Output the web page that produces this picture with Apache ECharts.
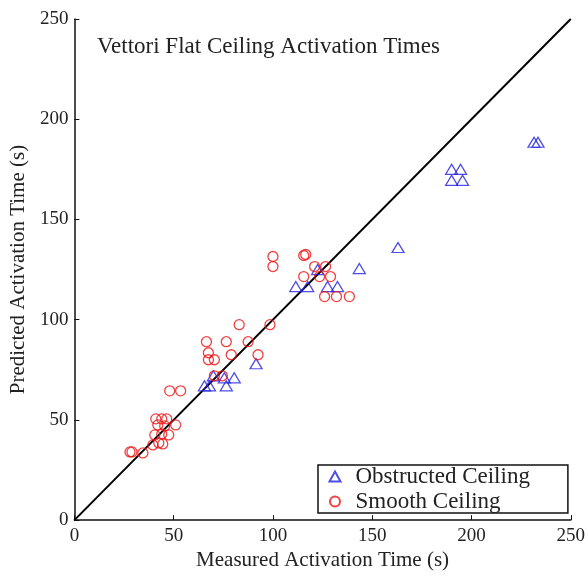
<!DOCTYPE html>
<html>
<head>
<meta charset="utf-8">
<script src="https://cdn.jsdelivr.net/npm/echarts@6/dist/echarts.min.js"></script>
<style>
html,body{margin:0;padding:0;background:#fff;}
#chart{width:588px;height:576px;}
</style>
</head>
<body>
<div id="chart"></div>
<script>
var titleText = 'Vettori Flat Ceiling Activation Times';
var xLabel = 'Measured Activation Time (s)';
var yLabel = 'Predicted Activation Time (s)';
var seriesNames = ['Obstructed Ceiling', 'Smooth Ceiling'];
var axisMin = 0, axisMax = 250, axisStep = 50;
var perfectLine = [[0, 0], [250, 250]];

var obstructed = [
  [65.5,67],[68,67],[76.5,67],[70,72],[75.5,71],[80.5,71],[91.5,78],
  [111.5,116.5],[117.5,116.5],[127.5,116.5],[132.5,116.5],[122.5,125],[143.5,125.5],
  [163,136],[190,169.5],[195.5,169.5],[190,175],[194.5,175],[231.5,188.5],[233.5,188.5]
];

var smooth = [
  [28,34],[29,34],[34.5,33.5],[39.5,37.5],[42.5,38.5],[44.5,38],[40.5,42.5],[44,43],[47.5,42.5],
  [42,47.5],[45.5,47],[51,47.5],[41,50.5],[44,50.5],[46.5,50.5],[48,64.5],[53.5,64.5],
  [66.5,89],[76.5,89],[87.5,89],[67.5,83.5],[79,82.5],[92.5,82.5],[67.5,80],[70.5,80],
  [70.5,72],[74.5,72],[83,97.5],[98.5,97.5],
  [100,131.5],[100,126.5],[115.5,132],[116.5,132.5],[121,126.5],[126.5,126.5],
  [115.5,121.5],[123.5,121.5],[129,121.5],[126,111.5],[132,111.5],[138.5,111.5]
];

var serif = '"Liberation Serif","DejaVu Serif",serif';
var chart = echarts.init(document.getElementById('chart'));

function axisCommon(name, nameGap, rotate) {
  return {
    type: 'value', min: axisMin, max: axisMax, interval: axisStep,
    name: name, nameLocation: 'middle', nameGap: nameGap, nameRotate: rotate,
    nameTextStyle: {fontFamily: serif, fontSize: 21, color: '#222'},
    axisLine: {show: true, onZero: false, lineStyle: {color: '#111', width: 1.5}},
    axisTick: {show: true, inside: true, length: 5, lineStyle: {color: '#111', width: 1}},
    axisLabel: {fontFamily: serif, fontSize: 19, color: '#222', margin: 6},
    splitLine: {show: false}
  };
}

var xA = axisCommon(xLabel, 26, 0);
var yA = axisCommon(yLabel, 43, 90);

chart.setOption({
  animation: false,
  backgroundColor: '#fff',
  title: {
    text: titleText, left: 92, top: 30,
    textStyle: {fontFamily: serif, fontSize: 23, fontWeight: 'normal', color: '#222'}
  },
  grid: {left: 72.5, right: 17, top: 19, bottom: 52.5, containLabel: false},
  xAxis: xA,
  yAxis: yA,
  legend: {
    data: [
      {name: seriesNames[0], icon: 'triangle'},
      {name: seriesNames[1], icon: 'circle'}
    ],
    orient: 'vertical',
    left: 318, top: 465,
    itemWidth: 11, itemHeight: 10, itemGap: 2,
    padding: [0, 38, 0, 9],
    borderColor: '#111', borderWidth: 1.5,
    backgroundColor: '#fff',
    textStyle: {fontFamily: serif, fontSize: 23, lineHeight: 22, color: '#222', padding: [0, 0, 0, 10]}
  },
  series: [
    {
      type: 'line', data: perfectLine, symbol: 'none', silent: true,
      lineStyle: {color: '#000', width: 2}, z: 1
    },
    {
      name: seriesNames[0], type: 'scatter', data: obstructed,
      symbol: 'triangle', symbolSize: [12, 10],
      itemStyle: {color: 'none', borderColor: '#2222dd', borderWidth: 1.3}, z: 3
    },
    {
      name: seriesNames[1], type: 'scatter', data: smooth,
      symbol: 'circle', symbolSize: 10,
      itemStyle: {color: 'none', borderColor: '#ee1111', borderWidth: 1.3}, z: 3
    }
  ]
});
</script>
</body>
</html>
